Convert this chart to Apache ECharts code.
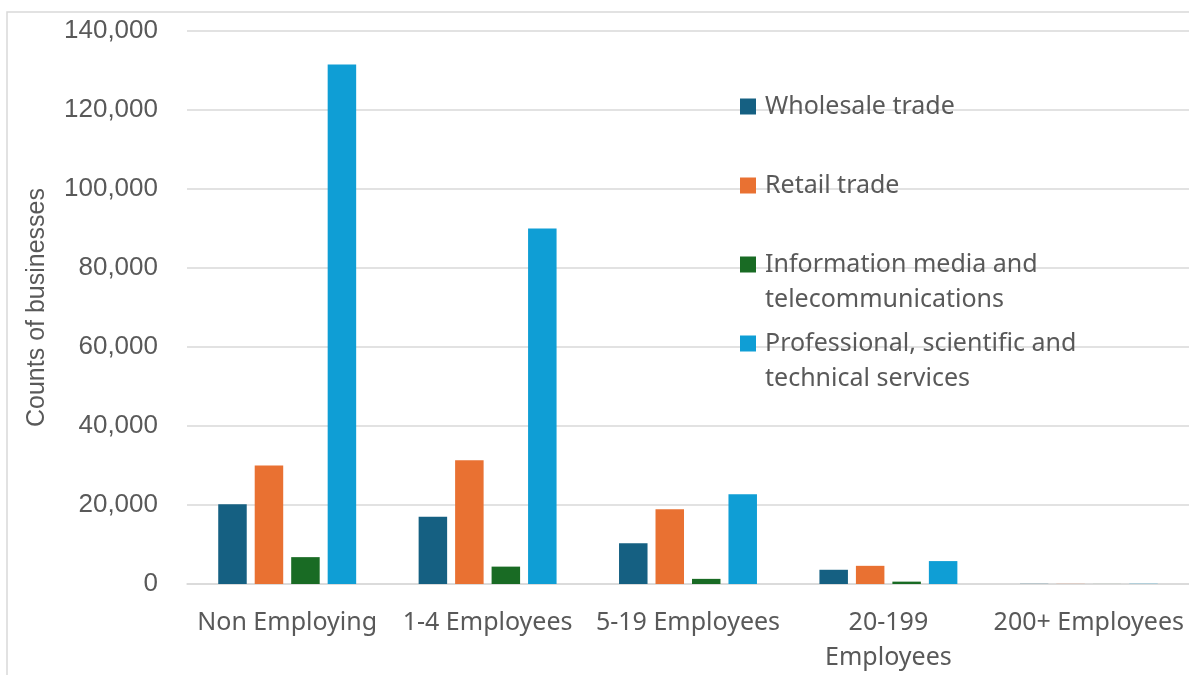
<!DOCTYPE html>
<html>
<head>
<meta charset="utf-8">
<script src="https://cdn.jsdelivr.net/npm/echarts@6/dist/echarts.min.js"></script>
<style>
  html, body { margin: 0; padding: 0; background: #ffffff; }
  #chart { width: 1189px; height: 675px; }
</style>
</head>
<body>
<div id="chart"></div>
<script>
// Business size bands along the x axis
const categories = ['Non Employing', '1-4 Employees', '5-19 Employees', '20-199 Employees', '200+ Employees'];

// Industry names, split into the lines shown in the legend
const industryLines = [
  ['Wholesale trade'],
  ['Retail trade'],
  ['Information media and', 'telecommunications'],
  ['Professional, scientific and', 'technical services']
];
const industryColors = ['#156082', '#E97132', '#196B24', '#0F9ED5'];

// Counts of businesses per size band
const wholesale = [20200, 17000, 10300, 3600, 40];
const retail = [30000, 31300, 18900, 4600, 30];
const infoMedia = [6800, 4400, 1300, 600, 10];
const professional = [131500, 90000, 22700, 5800, 50];

const seriesValues = [wholesale, retail, infoMedia, professional];
const industryNames = industryLines.map(l => l.join(' '));

// Axis tick settings
const yMin = 0, yMax = 140000, yStep = 20000;

const TEXT = '#595959';
const GRID = '#d9d9d9';
const SANS = '"Noto Sans", "DejaVu Sans", sans-serif';

const chart = echarts.init(document.getElementById('chart'), null, { renderer: 'canvas' });

const series = industryNames.map((name, i) => ({
  name: name,
  type: 'bar',
  data: seriesValues[i],
  barWidth: 28.5,
  barGap: '28%',
  itemStyle: { color: industryColors[i] }
}));

// Second lines of the wrapped legend entries
const legendTop = 91.5, legendPitch = 79;
const extraLines = [];
industryLines.forEach((lines, i) => {
  lines.slice(1).forEach((txt, j) => {
    extraLines.push({
      type: 'text',
      left: 765,
      top: legendTop + legendPitch * i + 35 * (j + 1),
      z: 10,
      style: { text: txt, font: '25px ' + SANS, fill: TEXT, lineHeight: 30 }
    });
  });
});

chart.setOption({
  animation: false,
  backgroundColor: '#ffffff',
  grid: { left: 187, top: 31, width: 1007, height: 554, containLabel: false },
  legend: {
    orient: 'vertical',
    left: 740,
    top: legendTop,
    padding: 0,
    itemWidth: 16,
    itemHeight: 16,
    itemGap: legendPitch - 30,
    icon: 'rect',
    selectedMode: false,
    data: industryNames,
    formatter: name => industryLines[industryNames.indexOf(name)][0],
    textStyle: { fontFamily: SANS, fontSize: 25, color: TEXT, lineHeight: 30, padding: [0, 0, 0, 4] }
  },
  xAxis: {
    type: 'category',
    data: categories,
    axisLine: { show: true, lineStyle: { color: GRID, width: 1.5 } },
    axisTick: { show: false },
    axisLabel: {
      interval: 0,
      margin: 21,
      fontFamily: SANS,
      fontSize: 25,
      lineHeight: 35,
      color: TEXT,
      formatter: v => v === '20-199 Employees' ? '20-199\nEmployees' : v
    }
  },
  yAxis: {
    type: 'value',
    min: yMin,
    max: yMax,
    interval: yStep,
    name: 'Counts of businesses',
    nameLocation: 'middle',
    nameGap: 137,
    nameRotate: 90,
    nameTextStyle: { fontFamily: '"Liberation Sans", Arial, sans-serif', fontSize: 25, color: TEXT, lineHeight: 25 },
    axisLine: { show: false },
    axisTick: { show: false },
    splitLine: { lineStyle: { color: GRID, width: 1.5 } },
    axisLabel: {
      margin: 29,
      fontFamily: '"Liberation Sans", Arial, sans-serif',
      fontSize: 26,
      color: TEXT,
      formatter: v => v.toLocaleString('en-US')
    }
  },
  series: series,
  graphic: [
    {
      type: 'rect',
      z: -1,
      silent: true,
      shape: { x: 7, y: 12, width: 1400, height: 900 },
      style: { fill: 'none', stroke: GRID, lineWidth: 1.5 }
    }
  ].concat(extraLines)
});
</script>
</body>
</html>
